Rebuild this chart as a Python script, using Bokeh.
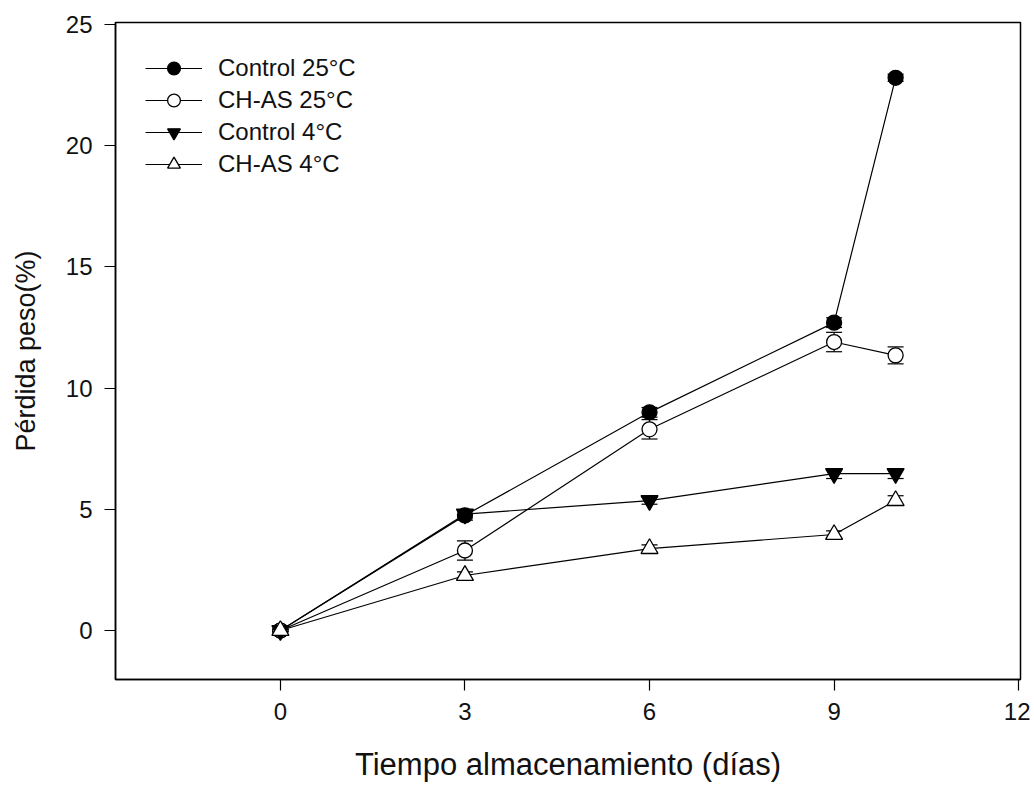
from bokeh.plotting import figure
from bokeh.models import Range1d, FixedTicker, Whisker, ColumnDataSource, TeeHead
from bokeh.embed import file_html
from bokeh.resources import INLINE

days = [0, 3, 6, 9, 10]
labels = ["Control 25°C", "CH-AS 25°C", "Control 4°C", "CH-AS 4°C"]
control_25 = [0.0, 4.75, 9.0, 12.7, 22.8]
chas_25 = [0.0, 3.3, 8.3, 11.9, 11.35]
control_4 = [0.0, 4.8, 5.36, 6.47, 6.47]
chas_4 = [0.0, 2.27, 3.38, 3.96, 5.36]
err_control_25 = [0.05, 0.2, 0.2, 0.2, 0.15]
err_chas_25 = [0.05, 0.4, 0.4, 0.4, 0.35]
err_control_4 = [0.05, 0.15, 0.15, 0.2, 0.2]
err_chas_4 = [0.05, 0.15, 0.15, 0.15, 0.2]
x_ticks = [0, 3, 6, 9, 12]
y_ticks = [0, 5, 10, 15, 20, 25]

FONT = "Liberation Sans"

p = figure(width=1030, height=787, output_backend="svg", toolbar_location=None,
           x_range=Range1d(-2.68, 12.03), y_range=Range1d(-2.02, 25.08),
           min_border_left=115, min_border_right=10, min_border_top=22, min_border_bottom=108)
p.background_fill_color = "white"
p.border_fill_color = "white"
p.outline_line_color = "black"
p.outline_line_width = 1.5
p.grid.visible = False

for ax in (p.xaxis[0], p.yaxis[0]):
    ax.major_tick_out = 11
    ax.major_tick_in = 0
    ax.minor_tick_line_color = None
    ax.axis_line_color = "black"
    ax.axis_line_width = 1.5
    ax.major_tick_line_width = 1.2
    ax.major_label_text_font = FONT
    ax.major_label_text_font_size = "24px"
    ax.major_label_text_color = "#111111"
    ax.axis_label_text_font = FONT
    ax.axis_label_text_font_style = "normal"
    ax.axis_label_text_color = "#111111"

p.xaxis.ticker = FixedTicker(ticks=x_ticks)
p.yaxis.ticker = FixedTicker(ticks=y_ticks)
p.xaxis.axis_label = "Tiempo almacenamiento (días)"
p.yaxis.axis_label = "Pérdida peso(%)"
p.xaxis.axis_label_text_font_size = "31px"
p.yaxis.axis_label_text_font_size = "27px"
p.xaxis.major_label_standoff = 12
p.xaxis.axis_label_standoff = 24
p.yaxis.major_label_standoff = 12
p.yaxis.axis_label_standoff = 22

series = [
    (labels[0], control_25, err_control_25, "circle", "black"),
    (labels[1], chas_25, err_chas_25, "circle", "white"),
    (labels[2], control_4, err_control_4, "inverted_triangle", "black"),
    (labels[3], chas_4, err_chas_4, "triangle", "white"),
]

for lab, ys, errs, marker, fill in series:
    src = ColumnDataSource(dict(x=days, y=ys,
                                lo=[a - b for a, b in zip(ys, errs)],
                                hi=[a + b for a, b in zip(ys, errs)]))
    w = Whisker(source=src, base="x", upper="hi", lower="lo", line_color="black", line_width=1.2,
                upper_head=TeeHead(size=16, line_color="black", line_width=1.2),
                lower_head=TeeHead(size=16, line_color="black", line_width=1.2))
    p.add_layout(w)
    p.line("x", "y", source=src, line_color="black", line_width=1.2, legend_label=lab)
    p.scatter("x", "y", source=src, marker=marker, size=15 if marker == "circle" else 17,
              fill_color=fill, line_color="black", line_width=1.3, legend_label=lab)

leg = p.legend[0]
leg.location = "top_left"
leg.margin = 30
leg.padding = 20
leg.spacing = 0
leg.border_line_color = None
leg.background_fill_alpha = 0
leg.glyph_width = 57
leg.glyph_height = 32
leg.label_height = 32
leg.label_standoff = 16
leg.label_text_font = FONT
leg.label_text_font_size = "24px"
leg.label_text_color = "#111111"

open("out.html", "w").write(file_html(p, INLINE))
